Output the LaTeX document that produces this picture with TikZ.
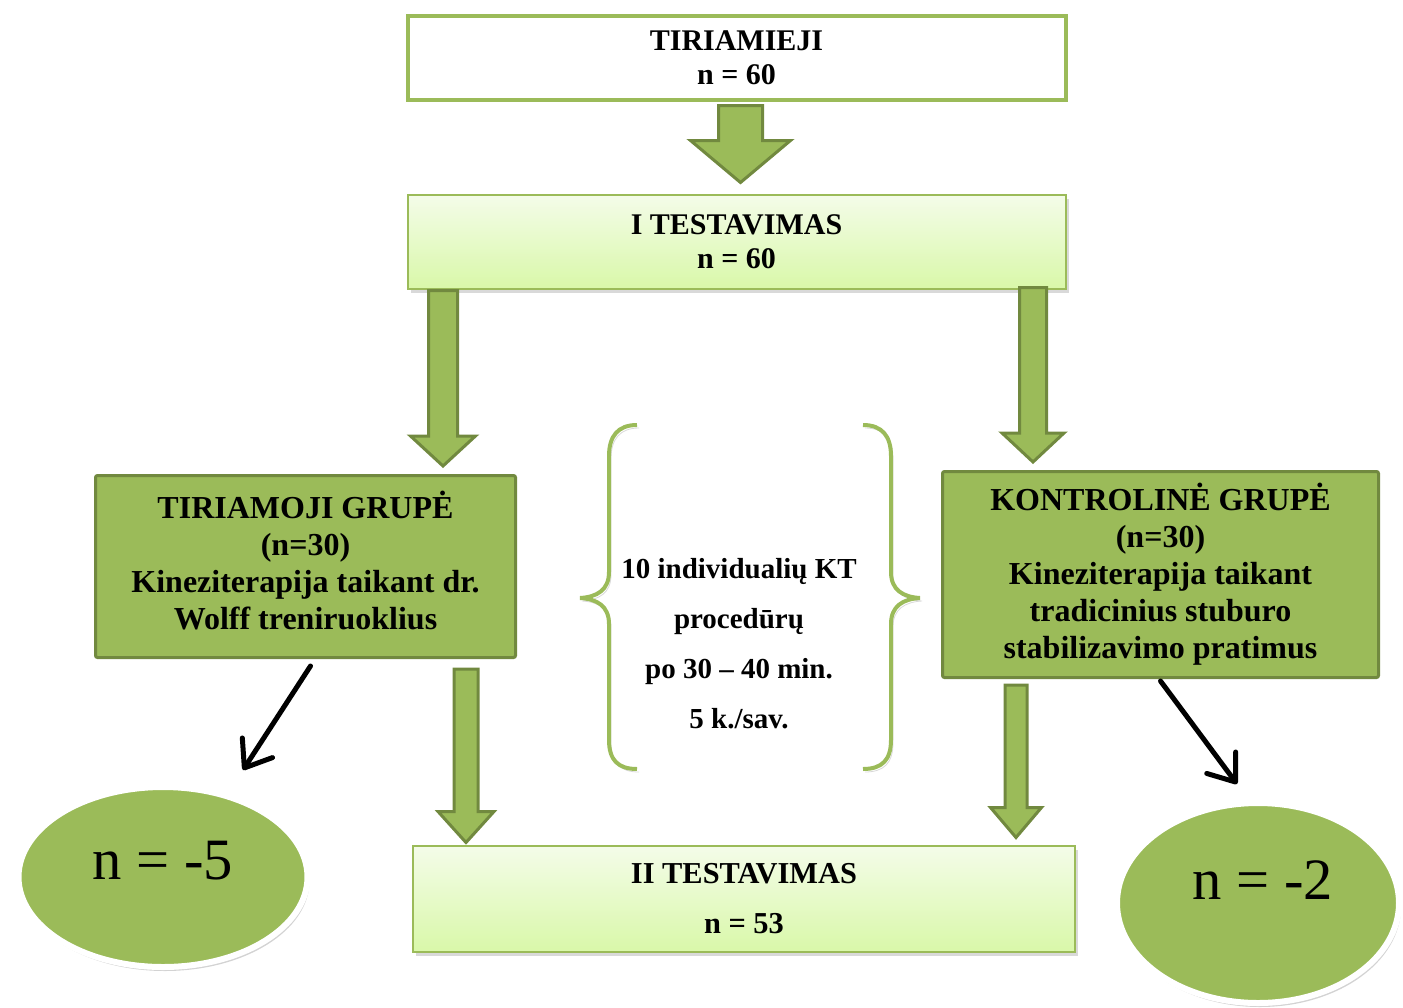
\documentclass[tikz,border=0pt]{standalone}
\usepackage{fontspec}
\setmainfont{Liberation Serif}
\usetikzlibrary{shapes.geometric, arrows.meta, calc, shadows}
\definecolor{accgreen}{HTML}{9BBB59}
\definecolor{accdark}{HTML}{71893F}
\definecolor{paletop}{HTML}{F4FCE9}
\definecolor{palebot}{HTML}{D9F8A9}

% block arrow: start, tip, shaft half width, head half width, head length (px)
\newcommand{\blockarrow}[5]{%
  \draw[block arrow] ($(#1)+(-#3,0)$) -- ($(#2)+(-#3,-#5)$) -- ($(#2)+(-#4,-#5)$) -- (#2)
    -- ($(#2)+(#4,-#5)$) -- ($(#2)+(#3,-#5)$) -- ($(#1)+(#3,0)$) -- cycle;}

\begin{document}
\begin{tikzpicture}[x=0.5pt,y=-0.5pt]
    \tikzset{
        box node/.style={draw=accgreen, line width=2pt, fill=white, align=center, font=\fontsize{15}{17}\selectfont\bfseries},
        test node/.style={draw=accgreen, line width=1pt, top color=paletop, bottom color=palebot, align=center, drop shadow={shadow xshift=1.5pt, shadow yshift=-2pt, opacity=0.3}},
        group node/.style={draw=accdark, line width=1.5pt, fill=accgreen, rounded corners=1pt, align=center, font=\fontsize{16}{18.5}\selectfont\bfseries},
        count node/.style={ellipse, draw=white, line width=3pt, fill=accgreen, inner sep=0pt, font=\fontsize{29.3}{30}\selectfont, drop shadow={shadow xshift=1pt, shadow yshift=-2pt, opacity=0.35}},
        block arrow/.style={draw=accdark, line width=1.5pt, fill=accgreen},
        out arrow/.style={draw=black, line width=2.5pt, line cap=round, -{Straight Barb[length=12pt, width=18pt, round]}},
        brace line/.style={draw=accgreen, line width=2pt, preaction={draw=black, opacity=0.15, transform canvas={shift={(1pt,-1.5pt)}}}}
      }
\useasboundingbox (0,0) rectangle (1403,1007);

\node[box node, minimum width=329pt, minimum height=42pt](all) at (736.5,57.5){TIRIAMIEJI\\n = 60};
\node[test node, minimum width=329pt, minimum height=47pt, font=\fontsize{15}{17}\selectfont\bfseries](test1) at (736.5,241.5){I TESTAVIMAS\\n = 60};
\node[group node, minimum width=210pt, minimum height=91pt](grpL) at (305.5,566.5){TIRIAMOJI GRUPĖ\\(n=30)\\Kineziterapija taikant dr.\\Wolff treniruoklius\\[-12.5pt]};
\node[group node, minimum width=218pt, minimum height=103pt](grpR) at (1160.5,574.5){KONTROLINĖ GRUPĖ\\(n=30)\\Kineziterapija taikant\\tradicinius stuburo\\stabilizavimo pratimus};
\node[align=center, font=\fontsize{14.5}{25}\selectfont\bfseries](plan) at (739,644){10 individualių KT\\procedūrų\\po 30 – 40 min.\\5 k./sav.};
\node[test node, minimum width=331pt, minimum height=53pt, font=\fontsize{15.2}{25}\selectfont\bfseries](test2) at (744,898.5){II TESTAVIMAS\\n = 53};
\node[count node, minimum width=144.5pt, minimum height=90pt, text depth=17pt](outL) at (163,877){n = -5};
\node[count node, minimum width=141pt, minimum height=100pt, text depth=23pt](outR) at (1258,903){\hspace{5pt}n = -2};

% braces round the plan
\draw[brace line] (637,425) .. controls (618,425) and (609,436) .. (609,456) -- (609,572)
    .. controls (609,590) and (597,597) .. (580,598) .. controls (597,599) and (609,606) .. (609,624)
    -- (609,740) .. controls (609,760) and (618,769) .. (637,769);
\draw[brace line] (863,425) .. controls (882,425) and (891,436) .. (891,456) -- (891,572)
    .. controls (891,590) and (903,597) .. (920,598) .. controls (903,599) and (891,606) .. (891,624)
    -- (891,740) .. controls (891,760) and (882,769) .. (863,769);

% block arrows
\coordinate (a1s) at ([xshift=2pt,yshift=-2pt]all.south);
\coordinate (a1t) at ([xshift=2pt,yshift=5.5pt]test1.north);
\blockarrow{a1s}{a1t}{22}{50}{42}
\coordinate (a2s) at ([xshift=-146.75pt,yshift=-0.5pt]test1.south);
\coordinate (a2t) at ([xshift=68.75pt,yshift=4pt]grpL.north);
\blockarrow{a2s}{a2t}{14.5}{32.5}{30}
\coordinate (a3s) at ([xshift=148.25pt,yshift=1pt]test1.south);
\coordinate (a3t) at ([xshift=-63.75pt,yshift=4pt]grpR.north);
\blockarrow{a3s}{a3t}{13.5}{31}{29}
\coordinate (a4s) at ([xshift=80.25pt,yshift=-5pt]grpL.south);
\coordinate (a4t) at ([xshift=-139pt,yshift=1pt]test2.north);
\blockarrow{a4s}{a4t}{12}{28}{31}
\coordinate (a5s) at ([xshift=-72.25pt,yshift=-3pt]grpR.south);
\coordinate (a5t) at ([xshift=136pt,yshift=3.5pt]test2.north);
\blockarrow{a5s}{a5t}{11}{25.5}{30}

% drop-outs
\draw[out arrow] ([xshift=2.5pt,yshift=-3.5pt]grpL.south) -- ([xshift=40pt,yshift=7pt]outL.north);
\draw[out arrow] ([yshift=-1pt]grpR.south) -- ([xshift=-10.5pt,yshift=8pt]outR.north);
\end{tikzpicture}
\end{document}
